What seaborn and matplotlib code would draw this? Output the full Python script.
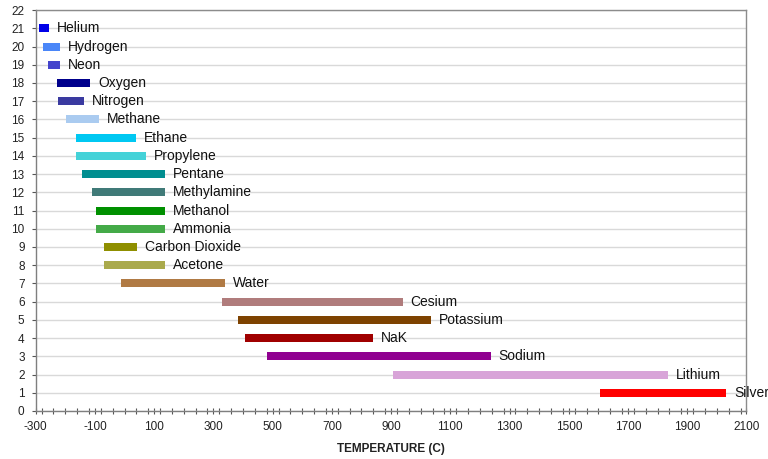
import matplotlib
matplotlib.use("Agg")
import matplotlib.pyplot as plt
import seaborn as sns
import numpy as np
import pandas as pd
from matplotlib.ticker import MultipleLocator

fluids = ["Helium", "Hydrogen", "Neon", "Oxygen", "Nitrogen", "Methane", "Ethane",
          "Propylene", "Pentane", "Methylamine", "Methanol", "Ammonia", "Carbon Dioxide",
          "Acetone", "Water", "Cesium", "Potassium", "NaK", "Sodium", "Lithium", "Silver"]
positions = [21, 20, 19, 18, 17, 16, 15, 14, 13, 12, 11, 10, 9, 8, 7, 6, 5, 4, 3, 2, 1]
temp_low = [-290, -275, -257, -227, -224, -198, -165, -165, -145, -111, -95, -95, -68, -68,
            -13, 329, 384, 405, 481, 905, 1605]
temp_high = [-255, -218, -218, -117, -136, -86, 39, 72, 137, 137, 137, 137, 42, 137,
             339, 939, 1034, 838, 1236, 1835, 2032]
colors = ["#0000E8", "#4A86F8", "#4444CC", "#00008C", "#3A3AA0", "#AACBF0", "#00C8F2",
          "#44D2D8", "#008E90", "#407A78", "#009000", "#44AA48", "#8F8F00", "#AAAA4C",
          "#B07A44", "#B07C7C", "#7E4200", "#A00000", "#900090", "#D8A4D8", "#FF0000"]
x_ticks = list(range(-300, 2101, 200))
y_ticks = list(range(0, 23))

df = pd.DataFrame({"fluid": fluids, "pos": positions, "low": temp_low, "high": temp_high,
                   "color": colors})
df["span"] = df["high"] - df["low"]

sns.set_theme(style="white")
plt.rcParams["font.family"] = ["Liberation Sans", "DejaVu Sans"]
plt.rcParams["axes.unicode_minus"] = False

fig = plt.figure(figsize=(7.68, 4.59), dpi=100)
ax = fig.add_axes([0.0465, 0.1046, 0.9255, 0.8734])

ax.barh(df["pos"], df["span"], left=df["low"], height=0.44, color=df["color"],
        zorder=3, linewidth=0)
for _, r in df.iterrows():
    ax.annotate(r["fluid"], xy=(r["high"], r["pos"]), xytext=(5.8, 0),
                textcoords="offset points", ha="left", va="center",
                fontsize=10, color="#111111", zorder=4, annotation_clip=False)

ax.set_xlim(-300, 2100)
ax.set_ylim(0, 22)
ax.set_xticks(x_ticks)
ax.xaxis.set_minor_locator(MultipleLocator(40))
ax.set_yticks(y_ticks)
ax.grid(axis="y", color="#D9D9D9", linewidth=1.0, zorder=0)
ax.grid(axis="x", visible=False)

for s in ["top", "right"]:
    ax.spines[s].set_color("#8C8C8C")
    ax.spines[s].set_linewidth(1.0)
for s in ["left", "bottom"]:
    ax.spines[s].set_color("#7F7F7F")
    ax.spines[s].set_linewidth(1.0)

ax.tick_params(axis="y", direction="out", length=3, width=0.8, color="#555555",
               labelsize=8.5, pad=5, left=True, labelcolor="#222222")
ax.tick_params(axis="x", which="both", direction="inout", length=4.5, width=0.8,
               color="#555555", bottom=True)
ax.tick_params(axis="x", which="major", labelsize=8.5, pad=5, labelcolor="#222222")

ax.set_xlabel("TEMPERATURE (C)", fontsize=8.5, fontweight="bold", color="#222222", labelpad=7)
ax.set_ylabel("")

fig.savefig("out.png", dpi=100)
